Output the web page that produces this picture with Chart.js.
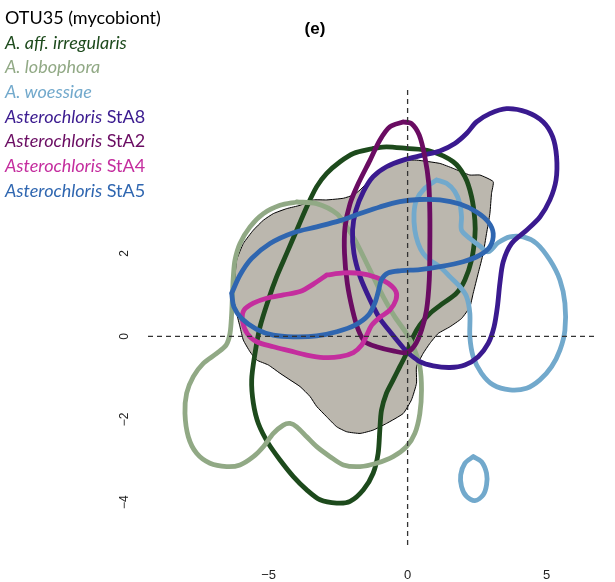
<!DOCTYPE html>
<html><head><meta charset="utf-8">
<script src="https://cdn.jsdelivr.net/npm/chart.js@4/dist/chart.umd.min.js"></script>
<style>
html,body{margin:0;padding:0;background:#fff;}
#wrap{position:relative;width:615px;height:582px;overflow:hidden;}
#c{position:absolute;left:0;top:0;}
#legend{position:absolute;left:5px;top:5px;font-family:Lato,'Open Sans',sans-serif;font-size:18px;}
#legend div{white-space:nowrap;height:24.7px;line-height:24.7px;}
#title{position:absolute;left:285px;width:60px;top:19px;text-align:center;font:bold 17px 'Liberation Sans',Arial,sans-serif;color:#000;}
</style></head>
<body>
<div id="wrap">
<canvas id="c" width="615" height="582"></canvas>
<div id="title">(e)</div>
<div id="legend"></div>
</div>
<script>
// axis ranges and ticks
const xRange = [-9.34, 6.85];
const yRange = [-5.03, 5.94];
const xTicks = [-5, 0, 5];
const yTicks = [-4, -2, 0, 2];

// legend
const legendItalic = ['', 'A. aff. irregularis', 'A. lobophora', 'A. woessiae', 'Asterochloris', 'Asterochloris', 'Asterochloris', 'Asterochloris'];
const legendPlain = ['OTU35 (mycobiont)', '', '', '', ' StA8', ' StA2', ' StA4', ' StA5'];
const colors = ['#000000', '#1d4a1c', '#91a985', '#72a9cc', '#3a1a8f', '#6a0c62', '#c42d9e', '#2f66b0'];

// contour outlines (data units)
const otu35 = [[-0.04,4.25],[0.32,4.25],[1.16,4.17],[1.64,4.05],[2.24,3.89],[2.60,3.89],[3.08,3.73],[3.02,3.45],[2.96,2.96],[2.84,2.48],[2.72,2.00],[2.54,1.52],[2.36,1.04],[2.24,0.71],[1.94,0.43],[1.52,0.23],[1.10,0.07],[0.80,-0.17],[0.56,-0.41],[0.32,-0.73],[0.32,-1.13],[0.14,-1.53],[-0.16,-1.86],[-0.76,-2.10],[-1.24,-2.26],[-1.71,-2.34],[-2.19,-2.30],[-2.55,-2.18],[-2.91,-1.94],[-3.27,-1.69],[-3.51,-1.45],[-3.87,-1.21],[-4.23,-1.05],[-4.59,-0.89],[-5.01,-0.69],[-5.43,-0.57],[-5.67,-0.37],[-5.91,-0.09],[-6.03,0.23],[-6.15,0.55],[-6.27,0.96],[-6.21,1.44],[-6.15,1.84],[-5.91,2.24],[-5.55,2.56],[-5.19,2.80],[-4.83,2.96],[-4.35,3.08],[-3.87,3.16],[-3.39,3.29],[-2.91,3.29],[-2.31,3.33],[-1.95,3.41],[-1.71,3.53],[-1.35,3.77],[-1.00,3.97],[-0.64,4.13],[-0.28,4.21]];
const irregularis = [[-1.24,4.53],[-0.76,4.57],[-0.04,4.53],[0.80,4.47],[1.64,4.21],[2.06,3.85],[2.30,3.37],[2.42,2.80],[2.42,2.40],[2.30,1.84],[2.06,1.36],[1.76,1.04],[1.28,0.80],[0.80,0.55],[0.44,0.27],[0.20,-0.01],[-0.04,-0.41],[-0.28,-0.73],[-0.52,-1.05],[-0.76,-1.37],[-0.94,-1.78],[-1.00,-2.26],[-1.06,-2.82],[-1.24,-3.30],[-1.59,-3.70],[-2.07,-3.98],[-2.55,-4.02],[-3.15,-3.94],[-3.63,-3.70],[-4.11,-3.38],[-4.59,-2.98],[-5.01,-2.58],[-5.37,-2.10],[-5.55,-1.61],[-5.61,-1.05],[-5.49,-0.41],[-5.31,0.23],[-5.01,0.88],[-4.71,1.44],[-4.35,2.00],[-3.99,2.56],[-3.63,3.12],[-3.27,3.61],[-2.91,3.93],[-2.43,4.21],[-1.95,4.41]];
const lobophora = [[-3.99,3.24],[-3.27,3.20],[-2.55,2.96],[-2.19,2.64],[-1.89,2.32],[-1.53,1.84],[-1.18,1.36],[-0.88,0.96],[-0.46,0.47],[-0.04,0.07],[0.23,-0.29],[0.44,-0.73],[0.50,-1.29],[0.44,-1.86],[0.26,-2.34],[-0.04,-2.66],[-0.52,-2.90],[-1.12,-3.06],[-1.71,-3.14],[-2.31,-3.10],[-2.79,-2.90],[-3.27,-2.66],[-3.63,-2.42],[-3.99,-2.18],[-4.23,-2.10],[-4.47,-2.14],[-4.83,-2.34],[-5.19,-2.66],[-5.55,-2.90],[-6.03,-3.10],[-6.51,-3.14],[-7.11,-3.06],[-7.59,-2.82],[-7.89,-2.42],[-8.01,-1.86],[-7.95,-1.37],[-7.71,-0.97],[-7.35,-0.65],[-6.87,-0.41],[-6.53,-0.21],[-6.39,0.07],[-6.33,0.55],[-6.30,1.04],[-6.27,1.44],[-6.21,1.84],[-6.03,2.24],[-5.67,2.64],[-5.19,2.96],[-4.59,3.16]];
const woessiae = [[1.04,3.77],[1.40,3.69],[1.70,3.49],[1.88,3.20],[1.94,2.88],[1.94,2.56],[2.24,2.36],[2.60,2.18],[2.90,2.04],[3.26,2.26],[3.68,2.40],[4.16,2.40],[4.64,2.24],[5.12,1.84],[5.48,1.36],[5.66,0.80],[5.66,0.15],[5.48,-0.33],[5.18,-0.73],[4.76,-1.05],[4.28,-1.25],[3.68,-1.29],[3.08,-1.17],[2.66,-0.89],[2.36,-0.49],[2.24,-0.01],[2.24,0.55],[2.12,0.96],[1.88,1.20],[1.52,1.44],[1.16,1.68],[0.80,1.84],[0.56,2.00],[0.38,2.24],[0.26,2.56],[0.23,2.96],[0.32,3.29],[0.62,3.57]];
const woessiaeIsland = [[2.36,-2.90],[2.66,-3.02],[2.84,-3.30],[2.84,-3.58],[2.72,-3.82],[2.42,-3.96],[2.12,-3.86],[1.94,-3.62],[1.91,-3.34],[2.06,-3.06]];
const stA8 = [[-0.04,-0.37],[0.44,-0.61],[0.92,-0.71],[1.52,-0.75],[2.06,-0.69],[2.54,-0.49],[2.90,-0.17],[3.11,0.23],[3.23,0.71],[3.32,1.28],[3.44,1.80],[3.74,2.24],[4.28,2.56],[4.76,2.88],[5.12,3.29],[5.34,3.77],[5.36,4.33],[5.22,4.81],[4.88,5.17],[4.28,5.41],[3.56,5.49],[2.96,5.37],[2.48,5.17],[2.12,4.89],[1.70,4.65],[1.16,4.47],[0.56,4.37],[-0.16,4.25],[-0.76,4.09],[-1.24,3.85],[-1.59,3.49],[-1.86,3.04],[-1.98,2.56],[-1.93,2.00],[-1.71,1.44],[-1.35,0.88],[-1.00,0.43],[-0.58,0.07]];
const stA2 = [[-0.16,5.17],[0.14,5.13],[0.42,4.85],[0.62,4.33],[0.76,3.69],[0.80,2.96],[0.80,2.16],[0.78,1.36],[0.68,0.63],[0.50,0.15],[0.26,-0.21],[-0.04,-0.39],[-0.52,-0.35],[-1.12,-0.25],[-1.53,-0.13],[-1.77,0.15],[-1.98,0.63],[-2.17,1.28],[-2.27,2.00],[-2.25,2.64],[-2.07,3.20],[-1.77,3.69],[-1.35,4.25],[-1.00,4.73],[-0.64,5.05]];
const stA4 = [[-2.91,1.48],[-2.31,1.53],[-1.71,1.52],[-1.12,1.42],[-0.70,1.28],[-0.42,1.08],[-0.42,0.88],[-0.64,0.63],[-1.00,0.46],[-1.29,0.27],[-1.47,0.03],[-1.65,-0.21],[-1.95,-0.39],[-2.43,-0.49],[-3.03,-0.51],[-3.63,-0.45],[-4.23,-0.35],[-4.83,-0.25],[-5.43,-0.13],[-5.77,0.07],[-5.94,0.38],[-5.89,0.63],[-5.55,0.80],[-5.07,0.92],[-4.47,1.00],[-3.87,1.08],[-3.39,1.26]];
const stA5 = [[-6.33,1.04],[-6.03,1.48],[-5.61,1.88],[-4.95,2.24],[-4.11,2.50],[-3.27,2.64],[-2.43,2.79],[-1.71,2.96],[-1.00,3.12],[-0.28,3.25],[0.44,3.30],[1.16,3.29],[1.88,3.19],[2.48,3.00],[2.90,2.76],[3.08,2.48],[2.96,2.16],[2.60,1.96],[2.00,1.80],[1.16,1.68],[0.44,1.61],[-0.28,1.58],[-0.70,1.53],[-0.94,1.37],[-1.04,1.12],[-1.18,0.80],[-1.41,0.51],[-1.89,0.27],[-2.55,0.11],[-3.27,0.01],[-4.11,-0.01],[-4.83,0.03],[-5.43,0.17],[-5.97,0.43],[-6.25,0.71]];

// legend build
const leg = document.getElementById('legend');
legendPlain.forEach((p, i) => {
  const d = document.createElement('div');
  d.style.color = colors[i];
  if (legendItalic[i]) { const it = document.createElement('i'); it.textContent = legendItalic[i]; d.appendChild(it); }
  if (p) d.appendChild(document.createTextNode(p));
  leg.appendChild(d);
});

function closed(a) {
  const p = a.map(([x, y]) => ({x, y}));
  p.push({x: a[0][0], y: a[0][1]});
  return p;
}
function contour(arr, color, order) {
  return {data: closed(arr), showLine: true, borderColor: color, borderWidth: 4.8, pointRadius: 0,
    pointHoverRadius: 0, fill: false, tension: 0.3, borderJoinStyle: 'round', borderCapStyle: 'round', order};
}

const datasets = [
  {data: closed(otu35), showLine: true, borderColor: '#000', borderWidth: 1, backgroundColor: '#bbb7ae',
   fill: 'shape', pointRadius: 0, tension: 0.15, order: 20},
  contour(irregularis, colors[1], 9),
  contour(lobophora, colors[2], 8),
  contour(woessiae, colors[3], 7),
  contour(woessiaeIsland, colors[3], 7),
  contour(stA8, colors[4], 6),
  contour(stA2, colors[5], 5),
  contour(stA4, colors[6], 4),
  contour(stA5, colors[7], 3),
  {data: [{x: xRange[0], y: 0}, {x: xRange[1], y: 0}], showLine: true, borderColor: '#333', borderWidth: 1.3,
   borderDash: [5, 4], pointRadius: 0, fill: false, order: 0},
  {data: [{x: 0, y: yRange[0]}, {x: 0, y: yRange[1]}], showLine: true, borderColor: '#333', borderWidth: 1.3,
   borderDash: [5, 4], pointRadius: 0, fill: false, order: 0}
];

const minus = v => String(v).replace('-', '\u2212');

new Chart(document.getElementById('c'), {
  type: 'scatter',
  data: {datasets},
  options: {
    responsive: false, animation: false, events: [], devicePixelRatio: 1,
    layout: {padding: {top: 90, right: 17, left: 0, bottom: 0}},
    plugins: {legend: {display: false}, tooltip: {enabled: false}, title: {display: false}},
    scales: {
      x: {type: 'linear', min: xRange[0], max: xRange[1], bounds: 'data',
        grid: {display: false, drawTicks: false}, border: {display: false},
        afterBuildTicks: s => { s.ticks = xTicks.map(v => ({value: v})); },
        afterFit: s => { s.height = 37; },
        ticks: {padding: 23, autoSkip: false, maxRotation: 0, color: '#222',
          font: {family: "'Liberation Sans', Arial, sans-serif", size: 13}, callback: minus}},
      y: {type: 'linear', min: yRange[0], max: yRange[1], bounds: 'data',
        grid: {display: false, drawTicks: false}, border: {display: false},
        afterBuildTicks: s => { s.ticks = yTicks.map(v => ({value: v})); },
        afterFit: s => { s.width = 148; },
        ticks: {padding: 16, autoSkip: false, minRotation: 90, maxRotation: 90, crossAlign: 'center', color: '#222',
          font: {family: "'Liberation Sans', Arial, sans-serif", size: 12}, callback: minus}}
    }
  }
});
</script>
</body></html>
